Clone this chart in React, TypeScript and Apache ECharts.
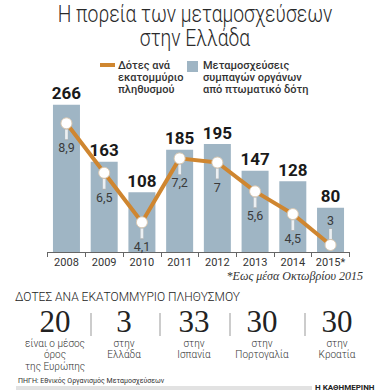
import React, { useEffect, useRef } from "react";
import * as echarts from "echarts";

const years = ["2008", "2009", "2010", "2011", "2012", "2013", "2014", "2015*"];
const transplants = [266, 163, 108, 185, 195, 147, 128, 80];
const donorsPerMillion = [8.9, 6.5, 4.1, 7.2, 7, 5.6, 4.5, 3];
const compareValues = ["20", "3", "33", "30", "30"];
const compareTexts = [
  ["είναι ο μέσος", "όρος", "της Ευρώπης"],
  ["στην", "Ελλάδα"],
  ["στην", "Ισπανία"],
  ["στην", "Πορτογαλία"],
  ["στην", "Κροατία"],
];

const ORANGE = "#cf8630";
const BAR = "#9fb5c4";
const FONT = "Roboto, 'Open Sans', sans-serif";

export default function App() {
  const ref = useRef<HTMLDivElement>(null);
  useEffect(() => {
    document.body.style.margin = "0";
    const chart = echarts.init(ref.current!, null, { renderer: "svg" });
    const n = donorsPerMillion.length;
    const lineData = donorsPerMillion.map((v, i) => ({
      value: v,
      label: {
        position: i === n - 1 ? "top" : "bottom",
        distance: 12,
      },
    }));
    const pinData = donorsPerMillion.map((v, i) => ({
      value: v,
      symbolOffset: i === n - 1 ? [0, -11] : [0, 11],
    }));

    const cx = [55, 124, 194, 262, 337];
    const seps = [91, 160, 230, 305];
    const graphics: any[] = [
      { type: "text", x: 195, y: 13.5, scaleX: 0.84, style: { text: "Η πορεία των μεταμοσχεύσεων", font: `300 23px ${FONT}`, fill: "#2a2a2a", align: "center", verticalAlign: "middle", lineHeight: 24 } },
      { type: "text", x: 195, y: 38, scaleX: 0.84, style: { text: "στην Ελλάδα", font: `300 23px ${FONT}`, fill: "#2a2a2a", align: "center", verticalAlign: "middle", lineHeight: 24 } },
      { type: "line", shape: { x1: 100, y1: 65, x2: 115, y2: 65 }, style: { stroke: ORANGE, lineWidth: 4 } },
      { type: "text", x: 118, y: 59, style: { text: "Δότες ανά\nεκατομμύριο\nπληθυσμού", font: `500 11px ${FONT}`, fill: "#333", lineHeight: 12 } },
      { type: "rect", shape: { x: 187, y: 61, width: 11, height: 11 }, style: { fill: BAR } },
      { type: "text", x: 203, y: 59, style: { text: "Μεταμοσχεύσεις\nσυμπαγών οργάνων\nαπό πτωματικό δότη", font: `500 11px ${FONT}`, fill: "#333", lineHeight: 12 } },
      { type: "text", x: 363, y: 276, style: { text: "*Εως μέσα Οκτωβρίου 2015", font: "italic 12px 'Liberation Serif', serif", fill: "#333", align: "right", verticalAlign: "middle" } },
      { type: "text", x: 15, y: 297, style: { text: "ΔΟΤΕΣ ΑΝΑ ΕΚΑΤΟΜΜΥΡΙΟ ΠΛΗΘΥΣΜΟΥ", font: `300 12px ${FONT}`, fill: "#222", verticalAlign: "middle" } },
      { type: "text", x: 18, y: 381, style: { text: "ΠΗΓΗ: Εθνικός Οργανισμός Μεταμοσχεύσεων", font: `7px ${FONT}`, fill: "#333", verticalAlign: "middle" } },
      { type: "rect", shape: { x: 16, y: 386, width: 296, height: 4 }, style: { fill: "#e2e2e2" } },
      { type: "text", x: 315, y: 387, style: { text: "Η ΚΑΘΗΜΕΡΙΝΗ", font: `bold 8px ${FONT}`, fill: "#222", verticalAlign: "middle" } },
    ];
    compareValues.forEach((v, i) => {
      graphics.push({ type: "text", x: cx[i], y: 321, style: { text: v, font: "31px 'Liberation Serif', serif", fill: "#222", align: "center", verticalAlign: "middle", lineHeight: 24 } });
      graphics.push({ type: "text", x: cx[i], y: 338, style: { text: compareTexts[i].join("\n"), font: `300 10px ${FONT}`, fill: "#333", align: "center", verticalAlign: "top", lineHeight: 11.2 } });
    });
    seps.forEach((x) => {
      graphics.push({ type: "line", shape: { x1: x, y1: 313, x2: x, y2: 336 }, style: { stroke: "#999", lineWidth: 1 } });
    });

    chart.setOption({
      animation: false,
      backgroundColor: "#fff",
      grid: { left: 47.6, right: 40.6, top: 86, bottom: 138 },
      xAxis: {
        type: "category",
        data: years,
        axisLine: { lineStyle: { color: "#666" } },
        axisTick: { show: true, length: 5, interval: 0, lineStyle: { color: "#666" } },
        axisLabel: { color: "#333", fontSize: 11, fontFamily: FONT, margin: 5, interval: 0 },
      },
      yAxis: [
        { type: "value", min: 0, max: 300, show: false, splitLine: { show: false } },
        { type: "value", min: 2.66, max: 10.71, show: false, splitLine: { show: false } },
      ],
      graphic: graphics,
      series: [
        {
          type: "bar",
          data: transplants,
          barWidth: 27,
          itemStyle: { color: BAR },
          label: { show: true, position: "top", distance: 3, color: "#1a1a1a", fontSize: 17, fontWeight: "bold", fontFamily: FONT },
          z: 1,
        },
        {
          type: "scatter",
          yAxisIndex: 1,
          data: pinData,
          symbol: "rect",
          symbolSize: [3, 11],
          itemStyle: { color: "#fff", borderColor: "#aaa", borderWidth: 0.6 },
          z: 2,
        },
        {
          type: "line",
          yAxisIndex: 1,
          data: lineData,
          symbol: "circle",
          symbolSize: 11,
          showAllSymbol: true,
          lineStyle: { color: ORANGE, width: 4 },
          itemStyle: { color: "#fff", borderColor: "#d9c7b0", borderWidth: 1 },
          label: {
            show: true,
            color: "#3a3a3a",
            fontSize: 12.5,
            fontFamily: FONT,
            formatter: (p: any) => String(p.value).replace(".", ","),
          },
          z: 3,
        },
      ],
    });
    return () => chart.dispose();
  }, []);
  return <div ref={ref} style={{ width: 390, height: 390 }} />;
}
